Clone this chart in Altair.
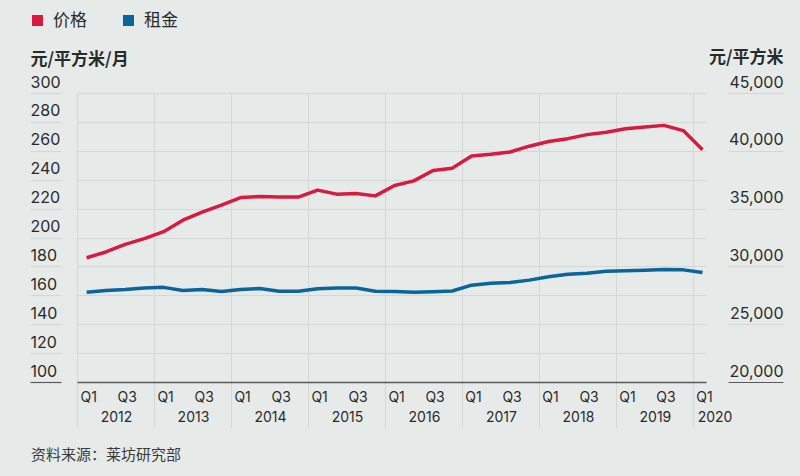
import altair as alt
import pandas as pd

# ---- data ----
quarters = [f"{y}Q{q}" for y in range(2012, 2020) for q in (1, 2, 3, 4)] + ["2020Q1"]
price = [30750, 31250, 31900, 32400, 33000, 34000, 34700, 35300, 35950, 36050,
         36000, 36000, 36600, 36250, 36300, 36100, 37000, 37400, 38300, 38500,
         39550, 39700, 39900, 40400, 40800, 41050, 41400, 41600, 41900, 42050,
         42200, 41750, 40100]
rent = [162.1, 163.3, 164.0, 165.0, 165.5, 163.3, 164.0, 162.6, 164.0, 164.7,
        162.8, 162.8, 164.5, 165.0, 165.0, 162.8, 162.6, 162.1, 162.5, 163.0,
        167.0, 168.3, 168.8, 170.5, 172.8, 174.6, 175.3, 176.7, 177.0, 177.4,
        177.9, 177.6, 175.8]
series_names = ["价格", "租金"]
years = [str(y) for y in range(2012, 2021)]
left_ticks = list(range(100, 301, 20))
right_ticks = list(range(20000, 45001, 5000))
left_title = "元/平方米/月"
right_title = "元/平方米"
source_text = "资料来源：莱坊研究部"

# ---- styling ----
BG = "#e6ebea"
GRID = "#d3d8d7"
DARK = "#5a5a5a"
TXT = "#2a2a2a"
RED = "#d91a40"
BLUE = "#0b659a"
NUM_FONT = "Inter"
CJK = "Noto Sans CJK SC"

# ---- tables ----
df = pd.DataFrame({
    "quarter": quarters,
    "t": [i + 0.5 for i in range(len(quarters))],
    "price": price,
    "rent": rent,
})
df_price = df.assign(series=series_names[0])
df_rent = df.assign(series=series_names[1])

qlab = pd.DataFrame({
    "label": [q[-2:] for q in quarters if q[-1] in "13"],
    "t": [i + 0.5 for i, q in enumerate(quarters) if q[-1] in "13"],
})
ylab = pd.DataFrame({
    "label": years,
    "t": [4 * k + 2 for k in range(len(years) - 1)] + [4 * (len(years) - 1) + 1.1],
})
src = pd.DataFrame({"text": [source_text]})

x_enc = alt.X(
    "t:Q",
    scale=alt.Scale(domain=[0, 32.68], nice=False, zero=False),
    axis=alt.Axis(values=list(range(0, 33, 4)), grid=True, gridColor=GRID,
                  labels=False, ticks=True, tickSize=46, tickColor=GRID,
                  domainColor=DARK, domainWidth=1.5, title=None),
)

color_enc = alt.Color(
    "series:N",
    scale=alt.Scale(domain=series_names, range=[RED, BLUE]),
    legend=alt.Legend(orient="none", legendX=-48, legendY=-81, direction="horizontal",
                      title=None, symbolType="square", symbolSize=25,
                      symbolStrokeWidth=6, labelFontSize=17, labelFont=CJK,
                      labelColor=TXT, labelOffset=7, columnPadding=27, padding=0),
)

blue = alt.Chart(df_rent).mark_line(strokeWidth=3.5, strokeJoin="round").encode(
    x=x_enc,
    y=alt.Y("rent:Q",
            scale=alt.Scale(domain=[100, 300], nice=False, zero=False),
            axis=alt.Axis(orient="left", values=left_ticks, grid=True, gridColor=GRID,
                          offset=16, tickSize=31,
                          tickColor={"condition": {"test": "datum.value === 100", "value": DARK}, "value": GRID},
                          tickWidth=1.2,
                          labelAlign="left", labelBaseline="alphabetic", labelPadding=0,
                          labelOffset=-6, labelFontSize=16, labelFont=NUM_FONT, labelColor=TXT,
                          domain=False, title=left_title, titleAngle=0, titleAlign="left",
                          titleBaseline="middle", titleX=-31, titleY=-34, titleFontSize=17,
                          titleFont=CJK, titleFontWeight="bold", titleColor=TXT)),
    color=color_enc,
)

red = alt.Chart(df_price).mark_line(strokeWidth=3.5, strokeJoin="round").encode(
    x=x_enc,
    y=alt.Y("price:Q",
            scale=alt.Scale(domain=[20000, 45000], nice=False, zero=False),
            axis=alt.Axis(orient="right", values=right_ticks, format=",.0f", grid=False,
                          offset=22, tickSize=55,
                          tickColor={"condition": {"test": "datum.value === 20000", "value": DARK}, "value": GRID},
                          tickWidth=1.2,
                          labelAlign="right", labelBaseline="alphabetic", labelPadding=0,
                          labelOffset=-6, labelFontSize=16, labelFont=NUM_FONT, labelColor=TXT,
                          domain=False, title=right_title, titleAngle=0, titleAlign="right",
                          titleBaseline="middle", titleX=55, titleY=-36, titleFontSize=17,
                          titleFont=CJK, titleFontWeight="bold", titleColor=TXT)),
    color=color_enc,
)

qtext = alt.Chart(qlab).mark_text(fontSize=14, font=NUM_FONT, color=TXT, dx=2, baseline="middle").encode(
    x="t:Q", y=alt.value(305), text="label:N")
ytext = alt.Chart(ylab).mark_text(fontSize=14, font=NUM_FONT, color=TXT, dx=1, baseline="middle").encode(
    x="t:Q", y=alt.value(325), text="label:N")
stext = alt.Chart(src).mark_text(fontSize=15, font=CJK, color="#3a3a3a", align="left", baseline="middle").encode(
    x=alt.value(-46), y=alt.value(362), text="text:N")

chart = alt.layer(blue, red, qtext, ytext, stext).resolve_scale(y="independent").properties(
    width=629, height=289,
    autosize=alt.AutoSizeParams(type="none"),
    padding={"left": 77, "top": 93, "right": 94, "bottom": 94},
).configure(background=BG).configure_view(stroke=None)

chart.save("out.html", embed_options={"renderer": "svg", "actions": False})
